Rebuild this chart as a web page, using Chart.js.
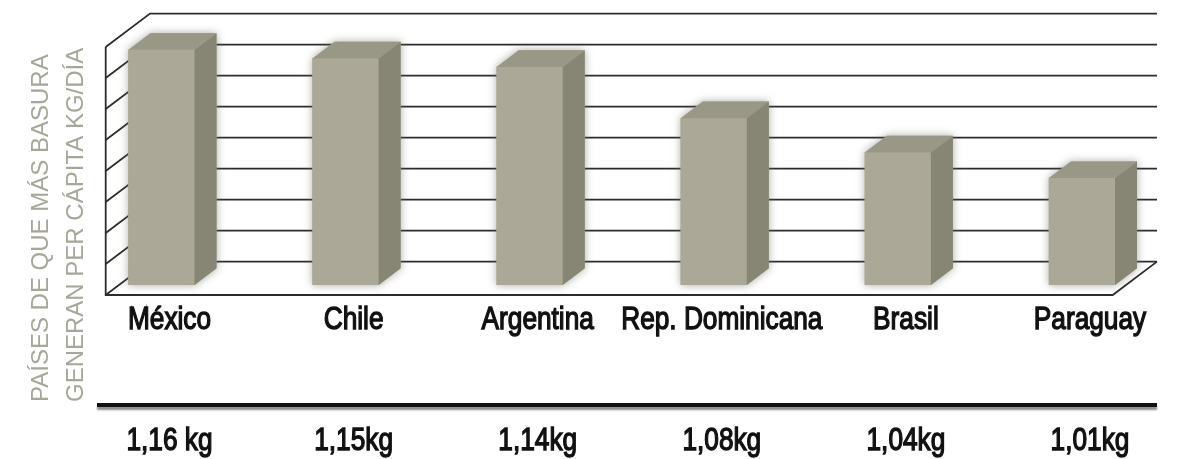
<!DOCTYPE html>
<html lang="es">
<head>
<meta charset="utf-8">
<title>Países que más basura generan per cápita</title>
<script src="https://cdn.jsdelivr.net/npm/chart.js@4.4.1/dist/chart.umd.min.js"></script>
<style>
  html, body { margin: 0; padding: 0; background: #ffffff; }
  #chart { display: block; }
</style>
</head>
<body>
<canvas id="chart" width="1186" height="459"></canvas>
<script>
// Data
const categories = ['México', 'Chile', 'Argentina', 'Rep. Dominicana', 'Brasil', 'Paraguay'];
const values = [1.16, 1.15, 1.14, 1.08, 1.04, 1.01];
const valueLabels = ['1,16 kg', '1,15kg', '1,14kg', '1,08kg', '1,04kg', '1,01kg'];
const axisTitle = ['PAÍSES DE QUE MÁS BASURA', 'GENERAN PER CÁPITA KG/DÍA'];
const axisMin = 0.885;
const axisMax = 1.175;
const gridSteps = 8;

// Styling
const FRONT = '#aca897';
const SIDE = '#878574';
const TOP = '#999785';
const GRID = '#2c2c2c';
const TITLE_COLOR = '#a7a799';
const LABEL_FONT = '32px "Liberation Sans", Arial, sans-serif';
const LABEL_SQUEEZE = 0.82;    // narrow the label face horizontally
const TITLE_FONT = '24px "Liberation Sans", "DejaVu Sans", sans-serif';

// 3D geometry (pixels): wall depth, how far the bar faces sit behind the floor's front edge, box depth
const wallDepth = { dx: 44.3, dy: 33.4 };
const faceInset = { dx: 13.3, dy: 10 };
const boxDepth = { dx: 22, dy: 16.7 };
const labelShift = 8;

function boxPaths(bar) {
  const w = bar.width;
  const l = bar.x - w / 2, r = bar.x + w / 2, t = bar.y, b = bar.base;
  return {
    side: [[r, t], [r + boxDepth.dx, t - boxDepth.dy], [r + boxDepth.dx, b - boxDepth.dy], [r, b]],
    top: [[l, t], [l + boxDepth.dx, t - boxDepth.dy], [r + boxDepth.dx, t - boxDepth.dy], [r, t]],
    all: [[l, b], [l, t], [l + boxDepth.dx, t - boxDepth.dy], [r + boxDepth.dx, t - boxDepth.dy], [r + boxDepth.dx, b - boxDepth.dy], [r, b]]
  };
}

function fillPoly(ctx, pts, color) {
  ctx.beginPath();
  ctx.moveTo(pts[0][0], pts[0][1]);
  for (let i = 1; i < pts.length; i++) ctx.lineTo(pts[i][0], pts[i][1]);
  ctx.closePath();
  ctx.fillStyle = color;
  ctx.fill();
}

// condensed, slightly heavy label text
function narrowText(ctx, txt, cx, baseline) {
  ctx.save();
  ctx.translate(cx, baseline);
  ctx.scale(LABEL_SQUEEZE, 1);
  ctx.fillText(txt, 0, 0);
  ctx.strokeText(txt, 0, 0);
  ctx.restore();
}

const frame3d = {
  id: 'frame3d',
  beforeDatasetsDraw(chart) {
    const { ctx, chartArea, scales } = chart;
    const { left, right, bottom } = chartArea;
    const y = scales.y;
    const backDy = wallDepth.dy - faceInset.dy;
    const frontL = left - faceInset.dx, backL = left + wallDepth.dx - faceInset.dx;
    const frontR = right - faceInset.dx, backR = right + wallDepth.dx - faceInset.dx;

    ctx.save();
    ctx.strokeStyle = GRID;
    ctx.lineWidth = 1.8;
    // gridlines across the side wall and back wall
    for (let k = 0; k <= gridSteps; k++) {
      const v = axisMin + k * (axisMax - axisMin) / gridSteps;
      const py = y.getPixelForValue(v);
      ctx.beginPath();
      ctx.moveTo(frontL, py + faceInset.dy);
      ctx.lineTo(backL, py - backDy);
      ctx.lineTo(backR, py - backDy);
      ctx.stroke();
    }
    // front edge of the side wall and the floor outline
    const topPx = y.getPixelForValue(axisMax);
    ctx.beginPath();
    ctx.moveTo(frontL, topPx + faceInset.dy);
    ctx.lineTo(frontL, bottom + faceInset.dy);
    ctx.lineTo(frontR, bottom + faceInset.dy);
    ctx.lineTo(backR, bottom - backDy);
    ctx.stroke();

    // soft halo behind each box
    const meta = chart.getDatasetMeta(0);
    ctx.shadowColor = 'rgba(110,110,100,0.6)';
    ctx.shadowBlur = 8;
    meta.data.forEach(bar => fillPoly(ctx, boxPaths(bar).all, FRONT));
    ctx.restore();
  },
  afterDatasetsDraw(chart) {
    const { ctx } = chart;
    const meta = chart.getDatasetMeta(0);
    ctx.save();
    meta.data.forEach(bar => {
      const p = boxPaths(bar);
      fillPoly(ctx, p.side, SIDE);
      fillPoly(ctx, p.top, TOP);
    });
    ctx.restore();
  },
  afterDraw(chart) {
    const { ctx, chartArea, scales } = chart;
    const { left, bottom } = chartArea;
    const x = scales.x;

    // category names under the floor
    ctx.save();
    ctx.fillStyle = '#111111';
    ctx.strokeStyle = '#111111';
    ctx.lineWidth = 1.4;
    ctx.font = LABEL_FONT;
    ctx.textAlign = 'center';
    ctx.textBaseline = 'alphabetic';
    categories.forEach((name, i) => narrowText(ctx, name, x.getPixelForValue(i) + labelShift, bottom + 44));
    ctx.restore();

    // heavy rule above the value row
    ctx.save();
    ctx.strokeStyle = '#111111';
    ctx.lineWidth = 4;
    ctx.shadowColor = 'rgba(0,0,0,0.45)';
    ctx.shadowOffsetY = 3;
    ctx.shadowBlur = 2;
    ctx.beginPath();
    ctx.moveTo(left - 22, bottom + 120);
    ctx.lineTo(x.right + 31, bottom + 120);
    ctx.stroke();
    ctx.restore();

    // value row
    ctx.save();
    ctx.fillStyle = '#111111';
    ctx.strokeStyle = '#111111';
    ctx.lineWidth = 1.4;
    ctx.font = LABEL_FONT;
    ctx.textAlign = 'center';
    ctx.textBaseline = 'alphabetic';
    valueLabels.forEach((txt, i) => narrowText(ctx, txt, x.getPixelForValue(i) + labelShift, bottom + 165));
    ctx.restore();

    // rotated axis title
    ctx.save();
    ctx.fillStyle = TITLE_COLOR;
    ctx.font = TITLE_FONT;
    ctx.textAlign = 'left';
    ctx.textBaseline = 'alphabetic';
    const baselines = [left - 71, left - 36];
    axisTitle.forEach((line, i) => {
      ctx.save();
      ctx.translate(baselines[i], bottom + 117);
      ctx.rotate(-Math.PI / 2);
      ctx.fillText(line, 0, 0);
      ctx.restore();
    });
    ctx.restore();
  }
};

new Chart(document.getElementById('chart'), {
  type: 'bar',
  data: {
    datasets: [{
      data: values.map((v, i) => ({ x: i, y: v })),
      base: axisMin,
      backgroundColor: FRONT,
      borderWidth: 0,
      barThickness: 66
    }]
  },
  options: {
    responsive: false,
    animation: false,
    devicePixelRatio: 1,
    layout: { padding: { left: 119, right: 60, top: 37, bottom: 0 } },
    plugins: { legend: { display: false }, tooltip: { enabled: false } },
    scales: {
      x: {
        type: 'linear',
        offset: false,
        min: -0.231,
        max: 5.239,
        grid: { display: false, drawTicks: false },
        border: { display: false },
        afterBuildTicks: axis => { axis.ticks = categories.map((_, i) => ({ value: i })); },
        afterFit: axis => { axis.height = 174; },
        ticks: { display: false }
      },
      y: {
        display: false,
        min: axisMin,
        max: axisMax
      }
    }
  },
  plugins: [frame3d]
});
</script>
</body>
</html>
